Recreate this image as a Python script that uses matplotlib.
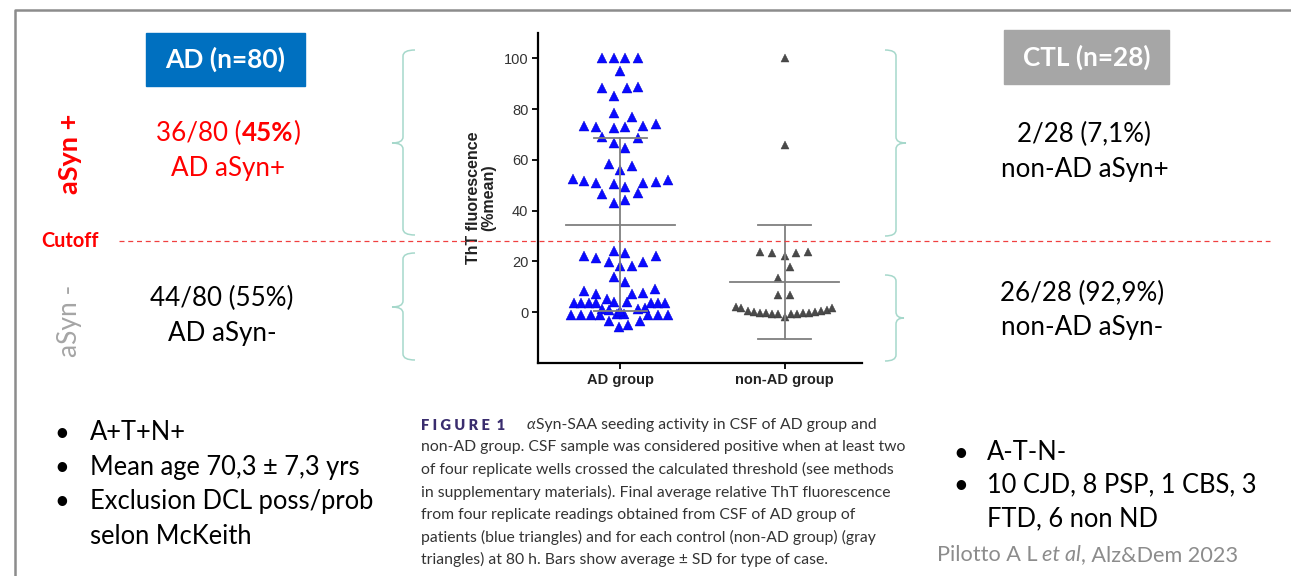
import numpy as np
import matplotlib

matplotlib.use("Agg")

import matplotlib.pyplot as plt
from matplotlib.lines import Line2D
from matplotlib.patches import Rectangle, PathPatch
from matplotlib.path import Path

W, H = 1291, 576

# ── data ────────────────────────────────────────────────────────────────────

GROUPS = ["AD group", "non-AD group"]

ad_jitter = [-0.11, -0.04, 0.03, 0.11, 0.00, -0.11, 0.04, 0.11, -0.04, -0.04,
             0.07, -0.22, -0.15, -0.04, 0.03, 0.14, 0.22, -0.11, 0.11, -0.04,
             0.03, -0.07, 0.07, 0.00, -0.29, -0.22, -0.15, -0.04, 0.03, 0.14,
             0.22, 0.29, -0.11, 0.11, -0.04, 0.03, -0.04, 0.03, -0.22, -0.15,
             0.22, -0.07, 0.14, 0.00, 0.07, -0.04, 0.03, -0.22, -0.15, -0.08,
             0.07, 0.14, 0.21, -0.28, -0.24, -0.19, -0.15, -0.04, 0.04, 0.19,
             0.23, 0.27, -0.11, -0.07, 0.11, 0.15, -0.30, -0.24, -0.18, -0.12,
             -0.02, 0.02, 0.17, 0.23, 0.29, -0.07, -0.01, 0.05, 0.12, 0.00]
ad_values = [100, 100, 100, 100, 95, 88.5, 88.2, 88.9, 85, 78.3,
             77.1, 73.4, 73, 72.5, 73, 73.4, 74.1, 69, 68.8, 66.8,
             64.6, 58.3, 57.6, 56, 52.4, 51.7, 50.8, 50.4, 49.5, 50.8,
             51.4, 52.1, 46.4, 47.1, 43.2, 44.2, 24.1, 23.4, 22.1, 21.4,
             22.1, 19.9, 19.9, 18.2, 18.2, 13.9, 12.0, 8.3, 7.2, 5.4,
             7.0, 7.6, 9.3, 3.8, 3.8, 3.6, 3.8, 4.1, 4.1, 3.6,
             3.8, 3.8, 1.2, 1.0, 1.2, 1.5, -0.9, -0.9, -1.2, -1.0,
             -0.8, -0.8, -1.0, -0.9, -0.9, -3.6, -5.8, -4.9, -3.6, 0.3]

ctl_jitter = [0.00, 0.00, -0.15, -0.075, 0.00, 0.07, 0.143, 0.035, -0.04, -0.04,
              0.035, -0.297, -0.263, -0.222, -0.186, -0.15, -0.113, -0.077, -0.038, 0.00,
              0.038, 0.075, 0.111, 0.147, 0.184, 0.22, 0.257, 0.289]
ctl_values = [100, 65.9, 23.7, 23.5, 22.1, 23.5, 23.9, 17.8, 13.3, 6.6,
              6.6, 2.0, 1.8, 0.3, 0.0, -0.2, -0.3, -0.5, -0.8, -1.8,
              -0.8, -0.5, -0.3, -0.2, 0.0, 0.3, 1.0, 1.8]

group_mean = [34.5, 12.0]
group_sd = [34.0, 22.5]
CUTOFF = 28

Y_TICKS = [0, 20, 40, 60, 80, 100]

# ── styling ─────────────────────────────────────────────────────────────────

SLIDE_FONT = ["Lato", "DejaVu Sans"]
CHART_FONT = ["Liberation Sans", "DejaVu Sans"]
RED = "#ff0000"
BRACE = "#a6d8cb"
BAR_GRAY = "#7f7f7f"


def fx(x):
    return x / W


def fy(y):
    return 1 - y / H


def rich_line(fig, x, y, parts, ha="left", **common):
    """Draw text segments side by side; parts = [(text, kwargs, gap_px)]."""
    r = fig.canvas.get_renderer()
    texts = []
    for s, kw, gap in parts:
        t = fig.text(0, 0, s, va="center", ha="left", **{**common, **kw})
        texts.append((t, gap))
    widths = [t.get_window_extent(r).width for t, _ in texts]
    total = sum(widths) + sum(g for _, g in texts)
    x0 = x - total / 2 if ha == "center" else x
    for (t, gap), w in zip(texts, widths):
        x0 += gap
        t.set_position((fx(x0), fy(y)))
        x0 += w


def brace(fig, x_spine, x_end, x_tip, top, mid, bottom, r=6):
    verts = [
        (x_end, top), (x_spine, top), (x_spine, top + r),
        (x_spine, mid - r), (x_spine, mid), (x_tip, mid),
        (x_spine, mid), (x_spine, mid + r),
        (x_spine, bottom - r), (x_spine, bottom), (x_end, bottom),
    ]
    codes = [Path.MOVETO, Path.CURVE3, Path.CURVE3,
             Path.LINETO, Path.CURVE3, Path.CURVE3,
             Path.CURVE3, Path.CURVE3,
             Path.LINETO, Path.CURVE3, Path.CURVE3]
    path = Path([(fx(a), fy(b)) for a, b in verts], codes)
    fig.add_artist(PathPatch(path, fill=False, edgecolor=BRACE, lw=1.1,
                             transform=fig.transFigure))


def main():
    fig = plt.figure(figsize=(W / 100, H / 100), dpi=100)

    # slide frame (top and left edges)
    fig.add_artist(Line2D([fx(15), fx(15), fx(W)], [0, fy(9.5), fy(9.5)],
                          color="#8c8c8c", lw=1.8, transform=fig.transFigure))

    # ── scatter panel ──
    ax = fig.add_axes([fx(538), fy(363), fx(862) - fx(538), fy(33) - fy(363)])
    ax.plot(np.array(ad_jitter) + 0, ad_values, ls="none", marker="^", ms=7,
            color="#0a0aff", mec="#0000cc", mew=0.3, zorder=3)
    ax.plot(np.array(ctl_jitter) + 1, ctl_values, ls="none", marker="^", ms=5.4,
            color="#4a4a4a", mec="#3a3a3a", mew=0.3, zorder=3)
    for i, (m, sd) in enumerate(zip(group_mean, group_sd)):
        ax.plot([i - 0.33, i + 0.33], [m, m], color=BAR_GRAY, lw=1.3, zorder=4)
        ax.plot([i, i], [m - sd, m + sd], color=BAR_GRAY, lw=1.3, zorder=4)
        for v in (m - sd, m + sd):
            ax.plot([i - 0.16, i + 0.16], [v, v], color=BAR_GRAY, lw=1.3, zorder=4)

    ax.set_xlim(-0.5, 1.47)
    ax.set_ylim(-20, 110)
    ax.set_xticks([0, 1])
    ax.set_xticklabels(GROUPS, fontfamily=CHART_FONT, fontweight="bold",
                       fontsize=10.5, color="#222222")
    ax.set_yticks(Y_TICKS)
    ax.set_yticklabels([str(t) for t in Y_TICKS], fontfamily=CHART_FONT,
                       fontsize=10.5, color="#333333")
    ax.set_ylabel("ThT fluorescence\n(%mean)", fontfamily=CHART_FONT,
                  fontweight="bold", fontsize=11.5, color="#222222",
                  linespacing=1.05, labelpad=5)
    for side in ("top", "right"):
        ax.spines[side].set_visible(False)
    for side in ("left", "bottom"):
        ax.spines[side].set_linewidth(1.6)
    ax.tick_params(direction="out", length=4, width=1.3, pad=3)
    ax.patch.set_alpha(0)

    # cutoff line spanning the slide, at the chart's cutoff value
    y_cut = ax.transData.transform((0, CUTOFF))[1] / fig.dpi / fig.get_figheight()
    fig.add_artist(Line2D([fx(119), fx(1270)], [y_cut, y_cut], color="#f04040",
                          lw=0.9, ls=(0, (4, 3)), transform=fig.transFigure))
    fig.text(fx(69.5), y_cut, "Cutoff", color=RED, fontweight="bold", fontsize=14.3,
             fontfamily=SLIDE_FONT, ha="center", va="center")

    # ── header boxes ──
    fig.add_artist(Rectangle((fx(146), fy(86)), fx(305) - fx(146), fy(33) - fy(86),
                             color="#0070c0", transform=fig.transFigure))
    fig.text(fx(225), fy(59), "AD (n=80)", color="white", fontweight="bold",
             fontsize=19, fontfamily=SLIDE_FONT, ha="center", va="center")
    fig.add_artist(Rectangle((fx(1004), fy(84)), fx(1169) - fx(1004), fy(30) - fy(84),
                             color="#a6a6a6", transform=fig.transFigure))
    fig.text(fx(1087), fy(57), "CTL (n=28)", color="white", fontweight="bold",
             fontsize=18.8, fontfamily=SLIDE_FONT, ha="center", va="center")

    # ── row labels ──
    fig.text(fx(70), fy(154), "aSyn +", color=RED, fontweight="bold", fontsize=19.5,
             fontfamily=SLIDE_FONT, rotation=90, ha="center", va="center")
    fig.text(fx(70), fy(321), "aSyn -", color="#a5a5a5", fontsize=19,
             fontfamily=SLIDE_FONT, rotation=90, ha="center", va="center")

    # ── counts ──
    big = dict(fontsize=18.7, fontfamily=SLIDE_FONT)
    rich_line(fig, 228, 133, [("36/80 (", {}, 0), ("45%", {"fontweight": "bold"}, 0),
                              (")", {}, 0)], ha="center", color=RED, **big)
    fig.text(fx(228), fy(168), "AD aSyn+", color=RED, ha="center", va="center", **big)
    fig.text(fx(222), fy(298), "44/80 (55%)", color="black", ha="center", va="center", **big)
    fig.text(fx(222), fy(333), "AD aSyn-", color="black", ha="center", va="center", **big)
    fig.text(fx(1084), fy(134), "2/28 (7,1%)", color="black", ha="center", va="center", **big)
    fig.text(fx(1085), fy(169), "non-AD aSyn+", color="black", ha="center", va="center", **big)
    fig.text(fx(1082), fy(293), "26/28 (92,9%)", color="black", ha="center", va="center", **big)
    fig.text(fx(1082), fy(327), "non-AD aSyn-", color="black", ha="center", va="center", **big)

    # ── braces ──
    brace(fig, 403, 415, 392, 50, 143, 235)
    brace(fig, 403, 415, 392, 253, 307, 360)
    brace(fig, 896, 885, 906, 50, 143, 236)
    brace(fig, 896, 885, 904, 275, 318, 361)

    # ── bullet lists ──
    bul = dict(fontsize=18.4, fontfamily=SLIDE_FONT, color="black", va="center")
    for y, s, dot in [(433, "A+T+N+", True), (467, "Mean age 70,3 \u00b1 7,3 yrs", True),
                      (502, "Exclusion DCL poss/prob", True), (537, "selon McKeith", False)]:
        if dot:
            fig.text(fx(62), fy(y), "\u2022", ha="center", **bul)
        fig.text(fx(90), fy(y), s, ha="left", **bul)
    for y, s, dot in [(453, "A-T-N-", True), (485, "10 CJD, 8 PSP, 1 CBS, 3", True),
                      (519, "FTD, 6 non ND", False)]:
        if dot:
            fig.text(fx(961), fy(y), "\u2022", ha="center", **bul)
        fig.text(fx(987), fy(y), s, ha="left", **bul)

    rich_line(fig, 937, 555, [("Pilotto A L", {}, 0), ("et al", {"fontstyle": "italic"}, 5),
                              (", Alz&Dem 2023", {}, 0)],
              color="#8c8c8c", fontsize=15.6, fontfamily=SLIDE_FONT)

    # ── figure caption ──
    cap = dict(fontsize=11.3, fontfamily=SLIDE_FONT, color="#333333")
    fig.text(fx(421), fy(425), "F I G U R E  1", color="#3a2d6e", fontweight="heavy",
             fontsize=10.5, fontfamily=SLIDE_FONT, va="center")
    rich_line(fig, 527, 425, [("\u03b1", {"fontstyle": "italic"}, 0),
                              ("Syn-SAA seeding activity in CSF of AD group and", {}, 0)], **cap)
    lines = [
        "non-AD group. CSF sample was considered positive when at least two",
        "of four replicate wells crossed the calculated threshold (see methods",
        "in supplementary materials). Final average relative ThT fluorescence",
        "from four replicate readings obtained from CSF of AD group of",
        "patients (blue triangles) and for each control (non-AD group) (gray",
        "triangles) at 80 h. Bars show average \u00b1 SD for type of case.",
    ]
    for k, s in enumerate(lines):
        fig.text(fx(421), fy(447.5 + 22.4 * k), s, va="center", **cap)

    fig.savefig("out.png", dpi=100)


if __name__ == "__main__":
    main()
